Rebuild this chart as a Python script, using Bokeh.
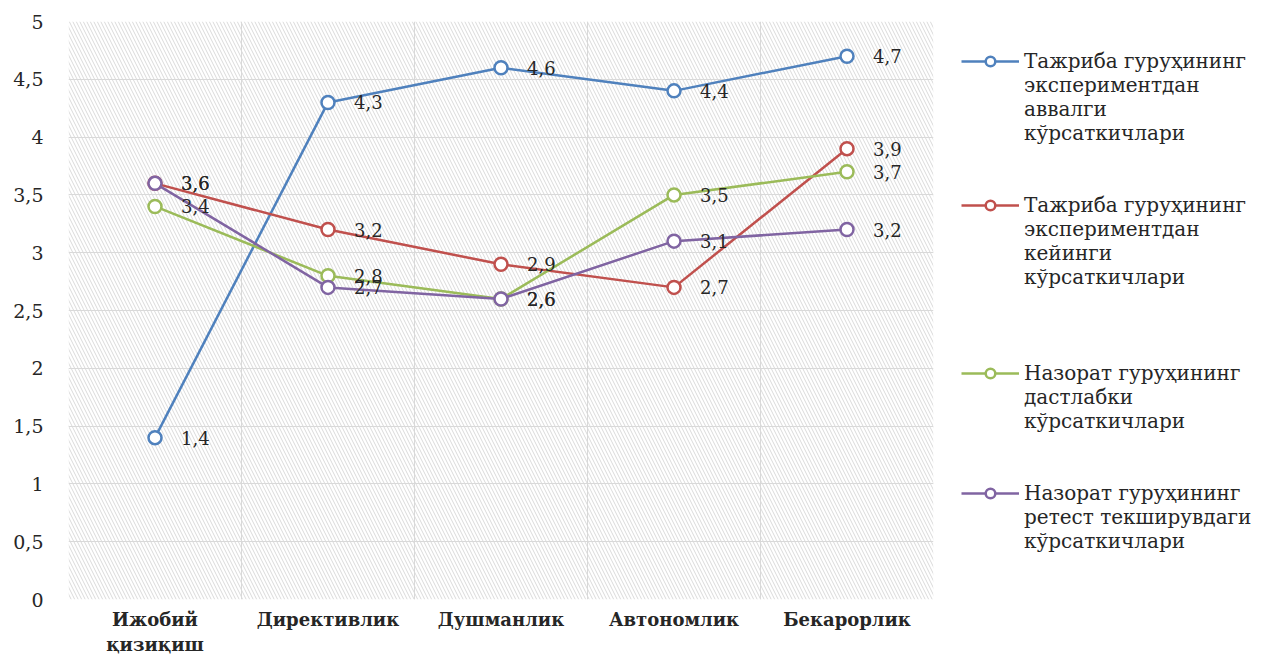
from bokeh.plotting import figure
from bokeh.models import (FixedTicker, Range1d, BoxAnnotation, Legend, LegendItem)
from bokeh.core.properties import value
from bokeh.embed import file_html
from bokeh.resources import INLINE

categories = ["Ижобий\nқизиқиш", "Директивлик", "Душманлик", "Автономлик", "Бекарорлик"]
series_names = [
    ["Тажриба гуруҳининг", "экспериментдан", "аввалги", "кўрсаткичлари"],
    ["Тажриба гуруҳининг", "экспериментдан", "кейинги", "кўрсаткичлари"],
    ["Назорат гуруҳининг", "дастлабки", "кўрсаткичлари"],
    ["Назорат гуруҳининг", "ретест текширувдаги", "кўрсаткичлари"],
]
exp_before = [1.4, 4.3, 4.6, 4.4, 4.7]
exp_after = [3.6, 3.2, 2.9, 2.7, 3.9]
ctrl_initial = [3.4, 2.8, 2.6, 3.5, 3.7]
ctrl_retest = [3.6, 2.7, 2.6, 3.1, 3.2]
y_ticks = [0, 0.5, 1, 1.5, 2, 2.5, 3, 3.5, 4, 4.5, 5]

colors = ["#4F81BD", "#C0504D", "#9BBB59", "#8064A2"]
all_series = [exp_before, exp_after, ctrl_initial, ctrl_retest]
legend_gaps = [2, 3, 2, 0]  # blank rows after each legend entry

SERIF = "DejaVu Serif"

xs = list(range(len(categories)))

p = figure(frame_width=865, frame_height=578, output_backend="svg",
           toolbar_location=None, x_range=Range1d(-0.5, len(categories) - 0.5),
           y_range=Range1d(0, 5), min_border_left=68, min_border_top=21,
           min_border_bottom=40, min_border_right=10)
p.outline_line_color = None
p.background_fill_color = "white"
p.border_fill_color = "white"

bg = BoxAnnotation(fill_color="white", fill_alpha=1, line_color=None,
                   hatch_pattern="left_diagonal_line", hatch_color="#dadada",
                   hatch_scale=7, hatch_weight=1, level="image")
p.add_layout(bg)

# axes
p.yaxis.ticker = FixedTicker(ticks=y_ticks)
p.yaxis.major_label_overrides = {t: (f"{t:g}".replace(".", ",")) for t in y_ticks}
p.yaxis.axis_line_color = None
p.yaxis.major_tick_line_color = None
p.yaxis.major_tick_out = 0
p.yaxis.major_tick_in = 0
p.yaxis.minor_tick_line_color = None
p.yaxis.major_label_text_font = SERIF
p.yaxis.major_label_text_font_size = "19px"
p.yaxis.major_label_text_color = "#262626"
p.yaxis.major_label_standoff = 25

p.xaxis.ticker = FixedTicker(ticks=xs)
p.xaxis.major_label_overrides = {i: c for i, c in enumerate(categories)}
p.xaxis.axis_line_color = None
p.xaxis.major_tick_line_color = None
p.xaxis.major_tick_out = 0
p.xaxis.major_tick_in = 0
p.xaxis.minor_tick_line_color = None
p.xaxis.major_label_text_font = SERIF
p.xaxis.major_label_text_font_style = "bold"
p.xaxis.major_label_text_font_size = "18px"
p.xaxis.major_label_text_color = "#262626"
p.xaxis.major_label_standoff = 9

p.ygrid.ticker = FixedTicker(ticks=y_ticks)
p.ygrid.grid_line_color = "#d9d9d9"
p.ygrid.grid_line_width = 1
p.xgrid.ticker = FixedTicker(ticks=[i - 0.5 for i in range(len(categories) + 1)])
p.xgrid.grid_line_color = "#d9d9d9"
p.xgrid.grid_line_width = 1

# invisible renderer used for continuation rows of the legend
blank = p.scatter(x=[], y=[], marker="circle", size=1, fill_alpha=0, line_alpha=0)

items = []
for name_lines, vals, col, gap in zip(series_names, all_series, colors, legend_gaps):
    ln = p.line(xs, vals, line_color=col, line_width=2.5)
    sc = p.scatter(xs, vals, marker="circle", size=13, fill_color="white",
                   line_color=col, line_width=2.5)
    items.append(LegendItem(label=name_lines[0], renderers=[ln, sc]))
    for extra in name_lines[1:]:
        items.append(LegendItem(label=extra, renderers=[blank]))
    for _ in range(gap):
        items.append(LegendItem(label=" ", renderers=[blank]))

for vals in all_series:
    labels = [f"{v:.1f}".replace(".", ",") for v in vals]
    p.text(xs, vals, text=labels, x_offset=26, text_baseline="middle",
           text_align="left", text_font=value(SERIF), text_font_size="18px",
           text_color="#262626")

legend = Legend(items=items, location="top_left", orientation="vertical")
legend.label_text_font = SERIF
legend.label_text_font_size = "20px"
legend.label_text_color = "#262626"
legend.label_text_baseline = "middle"
legend.glyph_width = 58
legend.glyph_height = 24
legend.label_height = 24
legend.label_standoff = 5
legend.spacing = 0
legend.border_line_color = None
legend.background_fill_alpha = 0
legend.margin = 28
legend.padding = 0
p.add_layout(legend, "right")

open("out.html", "w").write(file_html(p, INLINE))
